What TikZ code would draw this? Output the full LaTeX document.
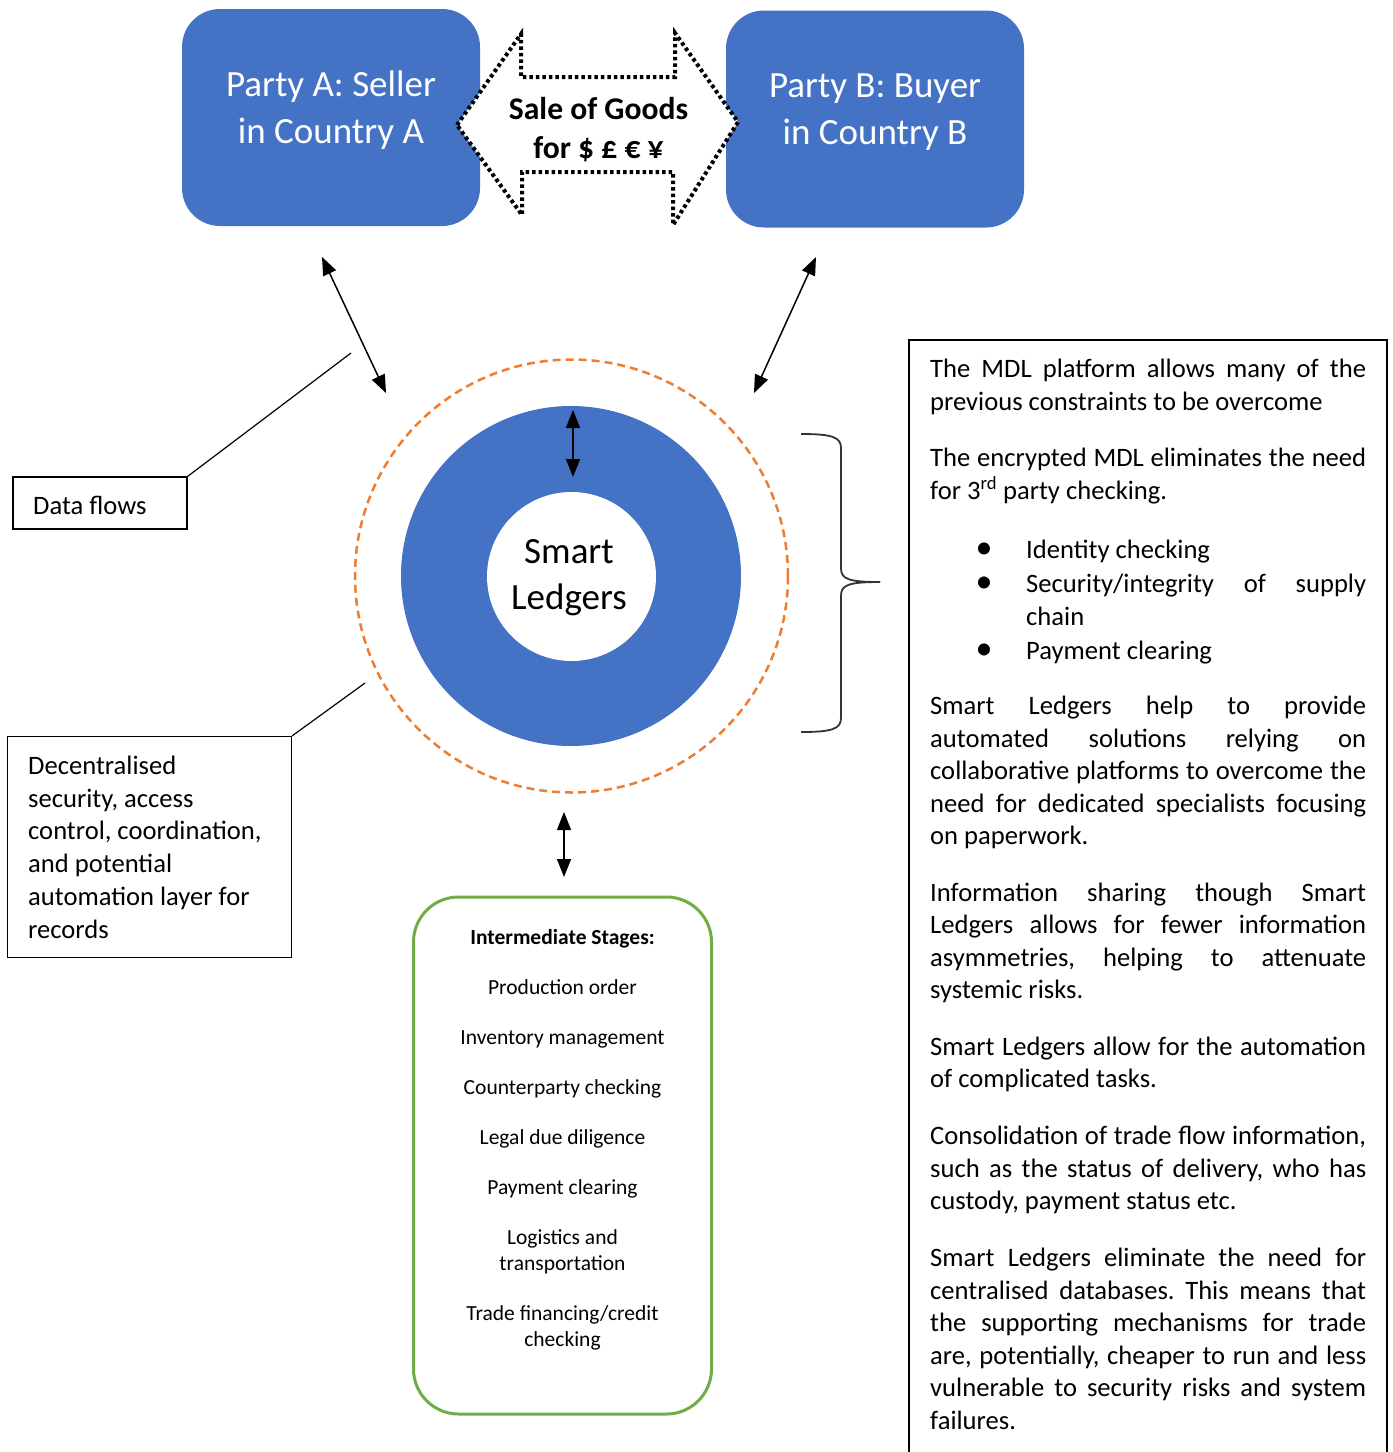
\documentclass[tikz,border=0pt]{standalone}
\usepackage{fontspec}
\setmainfont{Carlito}
\usetikzlibrary{arrows.meta}
\definecolor{pblue}{HTML}{4472C4}
\definecolor{porange}{HTML}{ED7D31}
\definecolor{pgreen}{HTML}{70AD47}
\newcommand\bodysize{\fontsize{26.6}{32.6}\selectfont}
\newcommand\bigsize{\fontsize{37}{47}\selectfont}
\newcommand\salesize{\fontsize{31.6}{39}\selectfont\bfseries}
\newcommand\smallsize{\fontsize{21.5}{26}\selectfont}
\newcommand\rjline[3]{\node[txt, anchor=base west] (#1) at (930,#2) {\makebox[436pt][s]{#3}};}
\newcommand\rlline[3]{\node[txt, anchor=base west] (#1) at (930,#2) {#3};}
\frenchspacing
\begin{document}
\begin{tikzpicture}[x=1pt,y=-1pt,
  txt/.style={inner sep=0pt, font=\bodysize},
  party/.style={fill=pblue, draw=none, rounded corners=38pt, minimum width=298, minimum height=217, inner sep=0pt},
  ptext/.style={inner sep=0pt, font=\bigsize, text=white, anchor=base},
  dflow/.style={{Triangle[length=18pt,width=14pt]}-{Triangle[length=18pt,width=14pt]}, line width=1.5pt},
  callout/.style={draw=black, line width=1.2pt, inner sep=0pt},
  stg/.style={inner sep=0pt, font=\smallsize, anchor=base}
]
\useasboundingbox (0,0) rectangle (1393,1452);
\fill[white] (0,0) rectangle (1393,1452);

% parties
\node[party] (pa) at (331,117.5) {};
\node[party] (pb) at (875,119) {};
\node[ptext] (pa1) at (331,96) {Party A: Seller};
\node[ptext] (pa2) at (331,143) {in Country A};
\node[ptext] (pb1) at (875,97) {Party B: Buyer};
\node[ptext] (pb2) at (875,144) {in Country B};

% dotted double arrow
\draw[fill=white, line width=4pt, dash pattern=on 3.5pt off 3pt]
  (457,125) -- (521,34) -- (521,77) -- (675,77) -- (675,33) -- (738,122)
  -- (673,225) -- (673,172) -- (522,172) -- (522,215) -- cycle;
\node[inner sep=0pt, font=\salesize, anchor=base] (s1) at (598.5,119) {Sale of Goods};
\node[inner sep=0pt, font=\salesize, anchor=base] (s2) at (598.5,158) {for \$ £ € ¥};

% circles
\node[circle, draw=porange, line width=2.5pt, dash pattern=on 8pt off 5pt, minimum size=433, inner sep=0pt] (layer) at (571.5,576) {};
\node[circle, fill=pblue, minimum size=340, inner sep=0pt] (ring) at (571,576) {};
\node[circle, fill=white, minimum size=169, inner sep=0pt] (core) at (571.5,576.5) {};
\node[inner sep=0pt, font=\bigsize, anchor=base] (sl1) at (569,563) {Smart};
\node[inner sep=0pt, font=\bigsize, anchor=base] (sl2) at (569,609) {Ledgers};

% data flow arrows
\coordinate (a1) at (322,257);
\coordinate (a2) at (386,393);
\coordinate (b1) at (816,257);
\coordinate (b2) at (754,393);
\coordinate (c1) at (573,410);
\coordinate (c2) at (573,477);
\coordinate (d1) at (564,812);
\coordinate (d2) at (564,877);
\draw[dflow] (a1) -- (a2);
\draw[dflow] (b1) -- (b2);
\draw[dflow] (c1) -- (c2);
\draw[dflow] (d1) -- (d2);

% Data flows callout
\node[callout, minimum width=174, minimum height=52] (df) at (100,503) {};
\node[txt, anchor=base west] (dft) at (33,514) {Data flows};
\coordinate (dfend) at (351,353);
\draw[line width=1.2pt] (df.north east) -- (dfend);

% Decentralised callout
\node[callout, minimum width=284, minimum height=221] (dc) at (149.5,847) {};
\foreach \y/\t [count=\i] in {774.5/Decentralised, 807.2/{security, access}, 839.9/{control, coordination,}, 872.6/and potential, 905.3/automation layer for, 938/records}
  \node[txt, anchor=base west] (dct\i) at (28,\y) {\t};
\coordinate (dcend) at (365,683);
\draw[line width=1.2pt] (dc.north east) -- (dcend);

% Intermediate stages
\node[draw=pgreen, line width=3pt, rounded corners=45pt, minimum width=298, minimum height=517, inner sep=0pt] (stages) at (562.5,1155.5) {};
\node[stg, font=\smallsize\bfseries] (st0) at (562.5,944) {Intermediate Stages:};
\foreach \y/\t [count=\i] in {994/{Production order}, 1044/{Inventory management}, 1094/{Counterparty checking}, 1144/{Legal due diligence}, 1194/{Payment clearing}, 1244/{Logistics and}, 1270/{transportation}, 1320/{Trade financing/credit}, 1346/{checking}}
  \node[stg] (st\i) at (562.5,\y) {\t};

% brace
\coordinate (brA) at (801,434);
\coordinate (brB) at (801,732);
\coordinate (brT) at (880,582);
\draw[line width=1.8pt, black!80] (brA) .. controls (832,434) and (841,437) .. (841,448) -- (841,568)
  .. controls (841,579) and (848,582) .. (brT);
\draw[line width=1.8pt, black!80] (brT) .. controls (848,582) and (841,585) .. (841,596) -- (841,718)
  .. controls (841,729) and (832,732) .. (brB);

% right text box
\draw[line width=2pt] (909,1470) -- (909,340) -- (1387,340) -- (1387,1470);
\rjline{r1}{377.5}{The MDL platform allows many of the}
\rlline{r2}{410}{previous constraints to be overcome}
\rjline{r3}{466.5}{The encrypted MDL eliminates the need}
\rlline{r4}{499}{for 3\textsuperscript{rd} party checking.}
\foreach \y [count=\i] in {558.5,592,659}
  \node[inner sep=0pt, font=\fontsize{34}{34}\selectfont, anchor=base] (bul\i) at (984,\y) {•};
\node[txt, anchor=base west] (b1t) at (1026,558.5) {Identity checking};
\node[txt, anchor=base west] (b2t) at (1026,592) {\makebox[340pt][s]{Security/integrity of supply}};
\node[txt, anchor=base west] (b2u) at (1026,625.5) {chain};
\node[txt, anchor=base west] (b3t) at (1026,659) {Payment clearing};
\rjline{r5}{714.5}{Smart Ledgers help to provide}
\rjline{r6}{747}{automated solutions relying on}
\rjline{r7}{779.5}{collaborative platforms to overcome the}
\rjline{r8}{812}{need for dedicated specialists focusing}
\rlline{r9}{844.5}{on paperwork.}
\rjline{r10}{901}{Information sharing though Smart}
\rjline{r11}{933.5}{Ledgers allows for fewer information}
\rjline{r12}{966}{asymmetries, helping to attenuate}
\rlline{r13}{998.5}{systemic risks.}
\rjline{r14}{1055}{Smart Ledgers allow for the automation}
\rlline{r15}{1087.5}{of complicated tasks.}
\rjline{r16}{1144.5}{Consolidation of trade flow information,}
\rjline{r17}{1177}{such as the status of delivery, who has}
\rlline{r18}{1209.5}{custody, payment status etc.}
\rjline{r19}{1266.5}{Smart Ledgers eliminate the need for}
\rjline{r20}{1299}{centralised databases. This means that}
\rjline{r21}{1331.5}{the supporting mechanisms for trade}
\rjline{r22}{1364}{are, potentially, cheaper to run and less}
\rjline{r23}{1396.5}{vulnerable to security risks and system}
\rlline{r24}{1429}{failures.}
\end{tikzpicture}
\end{document}
